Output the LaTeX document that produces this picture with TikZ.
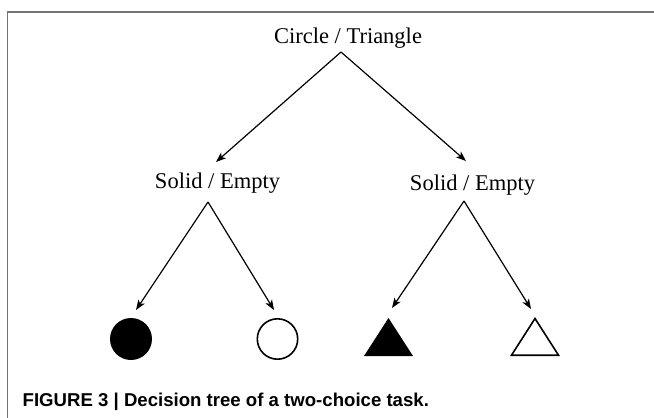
\documentclass[tikz,border=0pt]{standalone}
\usepackage{fontspec}
\setmainfont{Liberation Serif}
\newfontfamily\capfont{Liberation Sans}
\usetikzlibrary{arrows.meta}
\begin{document}
\begin{tikzpicture}[x=1pt,y=-1pt,
  lbl/.style={anchor=base,inner sep=0pt,font=\fontsize{22.5}{27}\selectfont},
  arr/.style={line width=1.2pt,-{Stealth[length=10pt,width=7.5pt,inset=2.5pt]}},
  shp/.style={line width=1.6pt,draw=black}]
\useasboundingbox (0,0) rectangle (654,418);
\draw[line width=1.5pt,draw=black!55] (7.5,418) -- (7.5,12) -- (654,12);
% labels
\node[lbl] (root) at (348,43) {Circle / Triangle};
\node[lbl] (sl) at (217.5,188) {Solid / Empty};
\node[lbl] (sr) at (472.5,190) {Solid / Empty};
% apex points
\coordinate (a0) at (341,52);
\coordinate (a1) at (208,202);
\coordinate (a2) at (464,201);
% arrow ends
\coordinate (e1) at (216,162);
\coordinate (e2) at (466,161);
\coordinate (e3) at (136,310);
\coordinate (e4) at (274,310);
\coordinate (e5) at (392,308);
\coordinate (e6) at (531,309);
\draw[arr] (a0) -- (e1);
\draw[arr] (a0) -- (e2);
\draw[arr] (a1) -- (e3);
\draw[arr] (a1) -- (e4);
\draw[arr] (a2) -- (e5);
\draw[arr] (a2) -- (e6);
% shapes
\fill (131,339) circle [radius=21];
\draw[shp] (277.5,339) circle [radius=20.2];
\fill (364,356) -- (388.5,318) -- (413,356) -- cycle;
\draw[shp,line join=miter] (511.5,355.2) -- (535,318.5) -- (558.5,355.2) -- cycle;
% caption
\node[anchor=base west,inner sep=0pt,font=\capfont\bfseries\fontsize{18.6}{22}\selectfont] (cap) at (22.5,406) {FIGURE 3 | Decision tree of a two-choice task.};
\end{tikzpicture}
\end{document}
